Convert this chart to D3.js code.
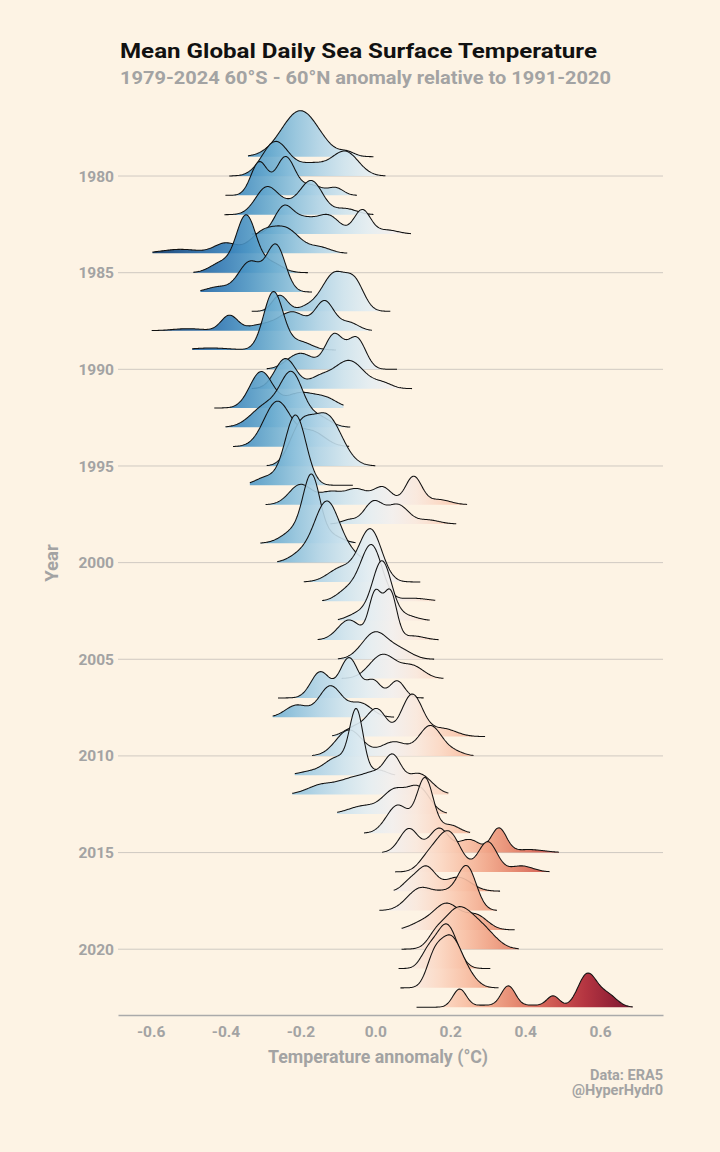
<!DOCTYPE html>
<html>
<head>
<meta charset="utf-8">
<script src="https://cdn.jsdelivr.net/npm/d3@7"></script>
<style>
  body { margin: 0; background: #fdf3e4; }
  svg text { font-family: Roboto, "Open Sans", sans-serif; font-weight: 700; }
</style>
</head>
<body>
<svg id="chart" width="720" height="1152"></svg>
<script>
// Ridgeline of daily SST anomalies per year.
const years = d3.range(1979, 2024);

// data range of each year's daily anomalies (°C)
const ranges = [
  [-0.34, -0.005], [-0.39, 0.027], [-0.40, -0.049], [-0.403, -0.005], [-0.33, 0.095],
  [-0.595, -0.075], [-0.486, -0.18], [-0.467, -0.169], [-0.33, 0.04], [-0.597, -0.009],
  [-0.489, -0.105], [-0.29, 0.058], [-0.33, 0.098], [-0.43, -0.085], [-0.40, -0.067],
  [-0.38, -0.07], [-0.29, 0.0], [-0.335, -0.06], [-0.293, 0.245], [-0.12, 0.216],
  [-0.307, -0.053], [-0.262, -0.02], [-0.191, 0.12], [-0.142, 0.16], [-0.1, 0.145],
  [-0.154, 0.169], [-0.1, 0.157], [-0.09, 0.182], [-0.26, 0.129], [-0.274, 0.05],
  [-0.115, 0.293], [-0.169, 0.262], [-0.215, 0.053], [-0.222, 0.195], [-0.102, 0.191],
  [-0.03, 0.253], [0.018, 0.49], [0.053, 0.465], [0.049, 0.333], [0.011, 0.325],
  [0.07, 0.372], [0.07, 0.383], [0.062, 0.307], [0.067, 0.329], [0.11, 0.687]
];

// density modes of each year: [centre °C, density height, spread °C]
const modes = [
  [[-0.20, 46, 0.05], [-0.075, 4, 0.02]],
  [[-0.267, 34, 0.035], [-0.17, 12, 0.04], [-0.08, 24, 0.035]],
  [[-0.31, 33, 0.022], [-0.24, 38, 0.025], [-0.17, 10, 0.03], [-0.105, 7, 0.02]],
  [[-0.29, 27, 0.03], [-0.23, 8, 0.03], [-0.17, 33, 0.03], [-0.08, 6, 0.03]],
  [[-0.245, 26, 0.025], [-0.19, 14, 0.03], [-0.125, 18, 0.03], [-0.035, 24, 0.022], [0.03, 4, 0.03]],
  [[-0.52, 4, 0.05], [-0.40, 10, 0.03], [-0.30, 20, 0.035], [-0.235, 22, 0.035], [-0.15, 6, 0.03]],
  [[-0.41, 10, 0.03], [-0.345, 56, 0.026], [-0.28, 10, 0.03]],
  [[-0.42, 5, 0.03], [-0.335, 30, 0.03], [-0.265, 46, 0.025]],
  [[-0.255, 16, 0.02], [-0.17, 6, 0.03], [-0.11, 36, 0.03], [-0.055, 28, 0.025]],
  [[-0.5, 2, 0.04], [-0.39, 15, 0.022], [-0.3, 6, 0.04], [-0.22, 18, 0.035], [-0.135, 29, 0.025], [-0.07, 8, 0.025]],
  [[-0.44, 2, 0.05], [-0.272, 58, 0.026], [-0.2, 8, 0.03]],
  [[-0.2, 16, 0.035], [-0.11, 34, 0.024], [-0.05, 31, 0.024]],
  [[-0.24, 30, 0.028], [-0.15, 10, 0.03], [-0.07, 28, 0.04], [0.02, 5, 0.025]],
  [[-0.305, 36, 0.03], [-0.2, 15, 0.04], [-0.13, 8, 0.03]],
  [[-0.29, 22, 0.04], [-0.222, 50, 0.03], [-0.15, 10, 0.03]],
  [[-0.262, 45, 0.035], [-0.17, 15, 0.035]],
  [[-0.2, 35, 0.03], [-0.13, 50, 0.04]],
  [[-0.29, 8, 0.03], [-0.213, 70, 0.028]],
  [[-0.2, 20, 0.03], [-0.12, 12, 0.03], [-0.05, 15, 0.03], [0.02, 17, 0.025], [0.102, 28, 0.022], [0.17, 5, 0.03]],
  [[-0.07, 4, 0.02], [-0.005, 22, 0.025], [0.06, 19, 0.028], [0.14, 4, 0.03]],
  [[-0.21, 14, 0.035], [-0.17, 60, 0.022], [-0.12, 8, 0.03]],
  [[-0.2, 8, 0.03], [-0.13, 60, 0.033], [-0.07, 8, 0.03]],
  [[-0.09, 14, 0.035], [-0.013, 52, 0.03]],
  [[-0.07, 12, 0.03], [-0.01, 55, 0.028], [0.1, 3, 0.04]],
  [[-0.04, 8, 0.03], [0.018, 58, 0.025], [0.08, 5, 0.03]],
  [[-0.07, 20, 0.03], [0.0, 46, 0.017], [0.04, 47, 0.017], [0.1, 4, 0.03]],
  [[0.0, 27, 0.035], [0.07, 8, 0.03]],
  [[0.02, 24, 0.035], [0.1, 12, 0.03]],
  [[-0.147, 26, 0.025], [-0.07, 40, 0.025], [-0.005, 17, 0.02], [0.058, 17, 0.02]],
  [[-0.21, 12, 0.03], [-0.12, 31, 0.03], [-0.04, 14, 0.03]],
  [[-0.05, 10, 0.03], [0.005, 26, 0.025], [0.098, 42, 0.028], [0.18, 8, 0.035]],
  [[-0.07, 26, 0.035], [0.05, 14, 0.035], [0.147, 30, 0.03], [0.21, 4, 0.025]],
  [[-0.18, 3, 0.03], [-0.1, 18, 0.035], [-0.05, 60, 0.018], [0.01, 5, 0.02]],
  [[-0.14, 10, 0.04], [-0.06, 14, 0.035], [0.0, 18, 0.03], [0.047, 32, 0.022], [0.115, 21, 0.035]],
  [[-0.03, 8, 0.04], [0.05, 22, 0.03], [0.115, 26, 0.03]],
  [[0.06, 28, 0.03], [0.133, 54, 0.022], [0.2, 8, 0.025]],
  [[0.09, 24, 0.025], [0.17, 24, 0.025], [0.25, 13, 0.03], [0.33, 24, 0.02], [0.41, 3, 0.04]],
  [[0.14, 12, 0.025], [0.195, 40, 0.032], [0.3, 30, 0.025], [0.39, 6, 0.03]],
  [[0.09, 8, 0.02], [0.135, 24, 0.025], [0.22, 14, 0.035]],
  [[0.12, 22, 0.035], [0.19, 15, 0.03], [0.245, 42, 0.025]],
  [[0.12, 6, 0.03], [0.19, 26, 0.035], [0.27, 14, 0.03]],
  [[0.16, 8, 0.02], [0.22, 40, 0.04], [0.29, 16, 0.035]],
  [[0.14, 14, 0.02], [0.19, 44, 0.028]],
  [[0.155, 22, 0.02], [0.2, 50, 0.03], [0.25, 8, 0.025]],
  [[0.225, 18, 0.018], [0.29, 2, 0.03], [0.355, 21, 0.019], [0.42, 2, 0.03], [0.475, 11, 0.017], [0.566, 33, 0.025], [0.62, 12, 0.025]]
];

const yearTicks = [1980, 1985, 1990, 1995, 2000, 2005, 2010, 2015, 2020];
const xTicks = [-0.6, -0.4, -0.2, 0.0, 0.2, 0.4, 0.6];
const colourLimits = [-0.6, 0.69];

const W = 720, H = 1152;
const svg = d3.select('#chart');
svg.append('rect').attr('width', W).attr('height', H).attr('fill', '#fdf3e4');

const x = d3.scaleLinear().domain([-0.687, 0.768]).range([118, 663]);
const y = d3.scaleLinear().domain([1979, 2023]).range([156.7, 1007.2]);
const h = d3.scaleLinear().domain([0, 19.33]).range([0, y(1980) - y(1979)]);

// shared horizontal gradient (RdBu, blue = cold)
const grad = svg.append('defs').append('linearGradient')
  .attr('id', 'rdbu').attr('gradientUnits', 'userSpaceOnUse')
  .attr('x1', x(colourLimits[0])).attr('x2', x(colourLimits[1]))
  .attr('y1', 0).attr('y2', 0);
d3.range(0, 1.0001, 0.05).forEach(t => {
  grad.append('stop').attr('offset', t).attr('stop-color', d3.interpolateRdBu(1 - t));
});

const grey = '#a3a3a3';

// grid lines
svg.append('g').selectAll('line').data(yearTicks).join('line')
  .attr('x1', 118).attr('x2', 663)
  .attr('y1', d => y(d)).attr('y2', d => y(d))
  .attr('stroke', '#c9c4bd').attr('stroke-width', 0.9);

// year labels
svg.append('g').selectAll('text').data(yearTicks).join('text')
  .attr('x', 114).attr('y', d => y(d)).attr('dy', '0.36em')
  .attr('text-anchor', 'end').attr('fill', grey).style('font-size', '15.5px')
  .text(d => d);

// ridges, top to bottom so later years sit in front
const density = (v, m) => d3.sum(m, ([mu, ht, sd]) => ht * Math.exp(-0.5 * ((v - mu) / sd) ** 2));
const gR = svg.append('g');
years.forEach((yr, i) => {
  const [lo, hi] = ranges[i];
  const pts = d3.range(0, 161).map(k => {
    const v = lo + (hi - lo) * k / 160;
    return [v, density(v, modes[i])];
  });
  const base = y(yr);
  const area = d3.area().x(d => x(d[0])).y0(base).y1(d => base - h(d[1]));
  const line = d3.line().x(d => x(d[0])).y(d => base - h(d[1]));
  gR.append('path').attr('d', area(pts))
    .attr('fill', 'url(#rdbu)').attr('fill-opacity', 0.9);
  gR.append('path').attr('d', line(pts))
    .attr('fill', 'none').attr('stroke', '#111').attr('stroke-width', 1.05);
});

// x axis
const ax = svg.append('g').attr('transform', 'translate(0,1015)')
  .call(d3.axisBottom(x).tickValues(xTicks).tickSize(0).tickPadding(11)
    .tickFormat(d => d.toFixed(1)));
ax.select('.domain').attr('stroke', '#aaaaaa').attr('stroke-width', 1.5);
ax.selectAll('text').attr('fill', grey).style('font-size', '15.5px')
  .style('font-family', 'Roboto, sans-serif').style('font-weight', 700);

// titles
svg.append('text').attr('x', 120).attr('y', 58)
  .attr('fill', '#111').style('font-size', '21px')
  .attr('textLength', 477).attr('lengthAdjust', 'spacingAndGlyphs')
  .text('Mean Global Daily Sea Surface Temperature');
svg.append('text').attr('x', 120).attr('y', 84)
  .attr('fill', grey).style('font-size', '18px')
  .attr('textLength', 491).attr('lengthAdjust', 'spacingAndGlyphs')
  .text('1979-2024 60°S - 60°N anomaly relative to 1991-2020');

svg.append('text').attr('x', 378).attr('y', 1063).attr('text-anchor', 'middle')
  .attr('fill', grey).style('font-size', '18.5px')
  .attr('textLength', 220).attr('lengthAdjust', 'spacingAndGlyphs')
  .text('Temperature annomaly (°C)');
svg.append('text').attr('transform', 'translate(58,563) rotate(-90)')
  .attr('text-anchor', 'middle').attr('fill', grey).style('font-size', '18.5px')
  .text('Year');

svg.append('text').attr('x', 663).attr('y', 1080).attr('text-anchor', 'end')
  .attr('fill', grey).style('font-size', '14.5px').text('Data: ERA5');
svg.append('text').attr('x', 663).attr('y', 1095).attr('text-anchor', 'end')
  .attr('fill', grey).style('font-size', '14.5px').text('@HyperHydr0');
</script>
</body>
</html>
